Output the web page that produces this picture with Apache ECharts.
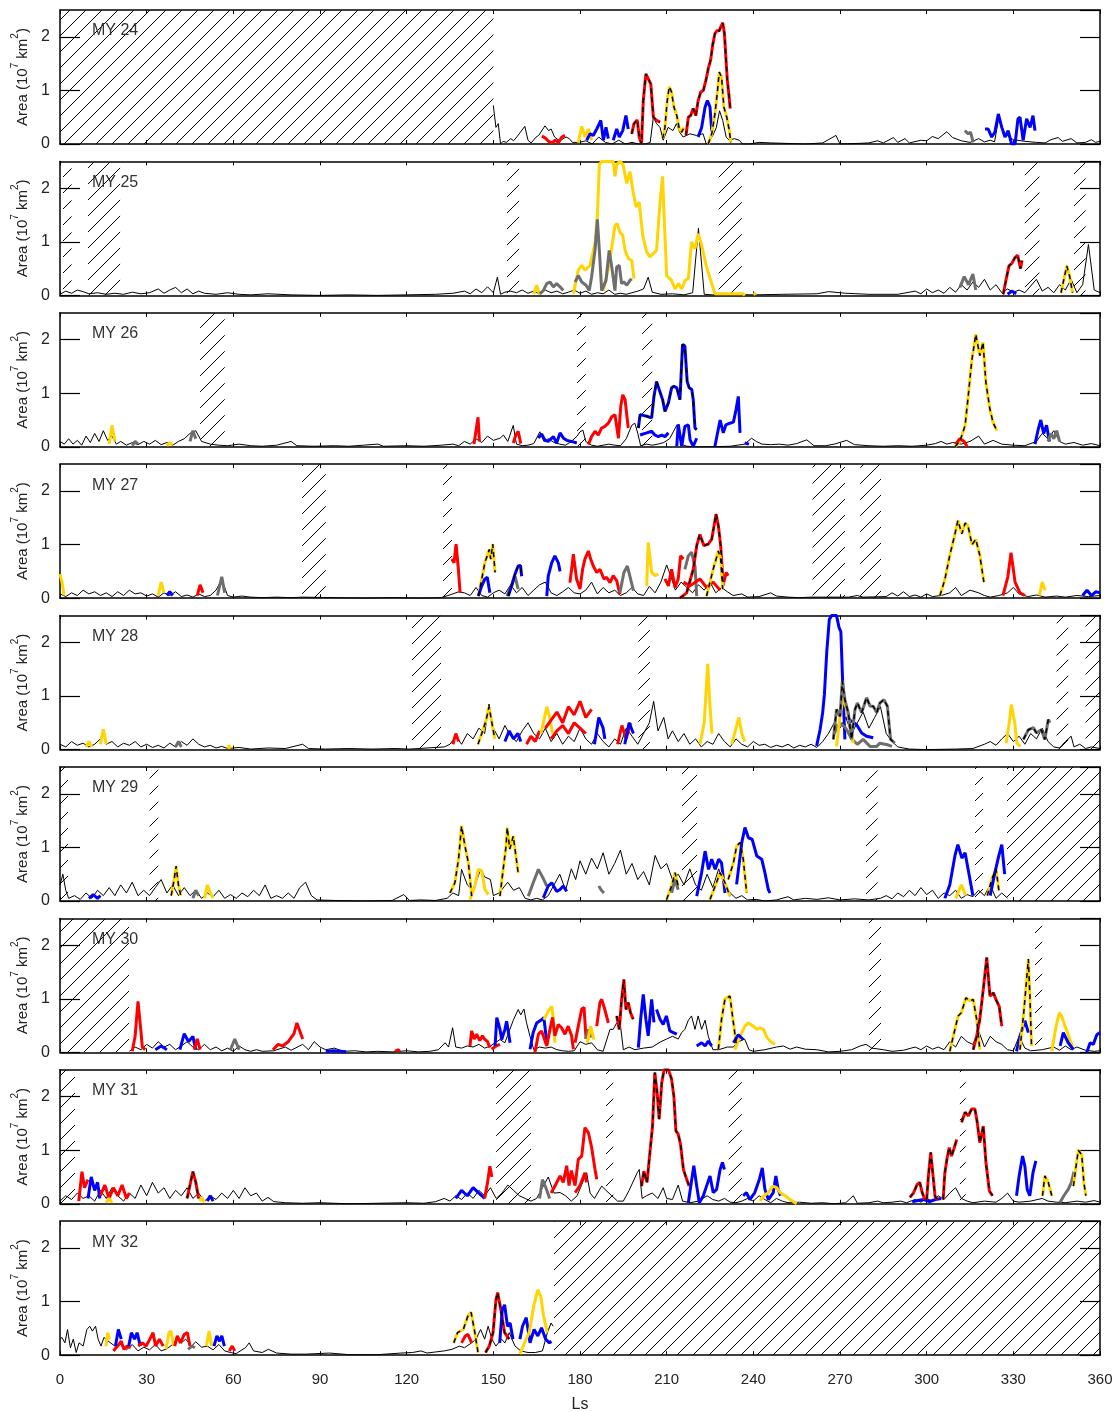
<!DOCTYPE html>
<html><head><meta charset="utf-8">
<script src="https://cdn.jsdelivr.net/npm/echarts@6/dist/echarts.min.js"></script>
<style>html,body{margin:0;padding:0;background:#fff}#c{width:1119px;height:1412px}</style>
</head><body><div id="c"></div>
<script>
// ---------------- DATA ----------------
const YEARS = ['MY 24','MY 25','MY 26','MY 27','MY 28','MY 29','MY 30','MY 31','MY 32'];
const LS_TICKS = [0,30,60,90,120,150,180,210,240,270,300,330,360];
const AREA_TICKS = [0,1,2];

// data gaps (Ls start, Ls end) per year
const HATCH = [
  [[0,150]],
  [[1,4],[9.7,20.8],[154.7,158.9],[228,236],[334,339],[351,355]],
  [[48.5,57],[179,182],[201.5,205]],
  [[83.8,92],[132.6,135.7],[260.5,271.7],[277,284.2]],
  [[121.8,131.9],[200.2,204.2],[345,349],[355,360]],
  [[0,2.8],[31,34],[215.3,220.5],[279,283],[316.7,319.5],[327.8,360]],
  [[0,23.9],[280,284.2],[337.5,340]],
  [[0,5.2],[151,163],[189,191.5],[231.5,236],[311.5,313.5]],
  [[171,360]]
];

// total area (thin black line), [Ls, area]
const BLACK24 = [[150,0.72],[150.9,0.31],[151.7,0.38],[152.5,0],[153.4,0.05],[154.5,0.03],[156,0.1],[157,0.06],[158.1,0.13],[160.9,0.33],[162,0.07],[163.1,0.02],[164.8,0.13],[165.7,0.16],[167.9,0.34],[169.1,0.25],[170,0.28],[171.2,0.13],[172.9,0.06],[175.2,0.13],[176.3,0.1],[177.4,0.03],[179.7,0.03],[182,0.06],[184.2,0],[186.5,0.13],[188.8,0.03],[191.1,0],[193.4,0.07],[195.7,0],[198,0.03],[200.3,0],[202.6,0],[204.3,0.03],[205.4,0.5],[206.5,0.38],[207.7,0.31],[208.8,0.07],[210.5,0.31],[212.2,0.25],[213.4,0.38],[214.5,0.22],[215.7,0.13],[218,0.19],[220.3,0.16],[222.6,0.19],[223.7,0],[224.9,0.07],[226,0.16],[227.2,0.31],[228.3,0.62],[229.4,0.44],[230.6,0.13],[231.7,0.07],[233.4,0.1],[235.1,0.07],[236.3,0],[238.6,0],[242,0.03],[246,0.02],[252,0.01],[258,0],[264,0.02],[268.6,0.16],[270,0],[276,0.01],[280,0.02],[283,0.06],[285,0.02],[288.5,0.12],[290,0.03],[292.5,0.1],[294,0.02],[298,0.07],[300,0.06],[302,0.14],[304,0.1],[307,0.23],[309,0.12],[312,0.06],[315,0.03],[318,0.1],[320,0.04],[322,0.07],[323.5,0.04],[325,0.5],[327,0.19],[330,0.08],[334,0.05],[338,0.03],[341,0.02],[343,0.08],[345.5,0.12],[347,0.05],[350,0.1],[352,0.02],[355,0.03],[357,0.08],[358.5,0.03],[360,0.05]];
const BLACK25 = [[0,0.02],[2,0.08],[4,0.04],[6,0.1],[8,0.07],[10,0.03],[13,0.05],[16,0.02],[19,0.04],[22,0.02],[25,0.06],[28,0.03],[31,0.05],[34,0.12],[36,0.04],[38,0.1],[40,0.15],[42,0.05],[44,0.12],[46,0.03],[48,0.08],[50,0.04],[54,0.02],[58,0.05],[62,0.02],[66,0.01],[72,0.03],[80,0.01],[90,0],[100,0.01],[110,0],[120,0.01],[130,0.02],[136,0.04],[140,0.08],[142,0.03],[144,0.12],[146,0.05],[148,0.16],[150,0.05],[151.4,0.34],[152.5,0.02],[154,0.06],[156,0.08],[158,0.05],[160,0.1],[162,0.04],[164,0.08],[166,0.03],[168,0.1],[170,0.05],[172,0.08],[174,0.03],[176,0.06],[178,0.1],[180,0.04],[182,0.08],[184,0.02],[186,0.05],[188,0.03],[190,0.1],[192,0.02],[194,0.04],[196,0.02],[198,0.05],[200,0.08],[202,0.12],[203.6,0.34],[205,0.06],[208,0.02],[212,0.03],[216,0.01],[219,0.05],[221,1.25],[223,0.02],[226,0.01],[232,0.02],[240,0.01],[250,0.02],[262,0.03],[266,0.07],[272,0.04],[280,0.02],[290,0.02],[296,0.08],[298,0.03],[300,0.12],[302,0.05],[304,0.1],[306,0.04],[308,0.15],[310,0.06],[312,0.2],[314,0.1],[316,0.25],[318,0.15],[320,0.3],[322,0.1],[324,0.2],[326,0.05],[328,0.12],[330,0.06],[332,0.1],[334,0.05],[338,0.3],[340,0.08],[342,0.15],[344,0.05],[346,0.2],[348,0.1],[350,0.3],[352,0.05],[354,0.2],[356,0.95],[358,0.1],[360,0.05]];
const BLACK26 = [[0,0.1],[1.5,0.05],[3,0.15],[4.5,0.05],[6,0.12],[7.5,0.03],[9,0.2],[10.5,0.08],[12,0.25],[13.5,0.1],[15,0.3],[16.5,0.12],[18,0.2],[19.5,0.05],[21,0.1],[23,0.03],[25,0.08],[27,0.04],[29,0.1],[31,0.05],[33,0.12],[35,0.04],[37,0.08],[39,0.03],[41,0.1],[43,0.15],[45,0.25],[47,0.3],[49,0.1],[52,0.05],[55,0.03],[58,0.02],[62,0.05],[66,0.02],[70,0.01],[75,0.03],[80,0.1],[82,0.02],[88,0.01],[95,0.02],[100,0.01],[105,0.03],[110,0.05],[112,0.01],[120,0.02],[126,0.01],[132,0.03],[136,0.05],[138,0.02],[140,0.1],[142,0.05],[144,0.15],[146,0.08],[148,0.2],[150,0.12],[152.3,0.16],[153.5,0.22],[155,0.1],[156.9,0.4],[158,0.05],[160,0.02],[162,0.03],[164,0.06],[166.1,0.28],[167.5,0.1],[169,0.15],[171,0.08],[173,0.05],[175,0.03],[177,0.1],[179,0.2],[180,0.28],[181,0.31],[182,0.1],[184,0.03],[186,0.01],[188,0.03],[190,0.05],[192,0.03],[194,0.02],[196,0.15],[197.9,0.4],[199,0.44],[200,0.25],[201,0.02],[203,0.05],[205,0.03],[207,0.05],[209,0.08],[211,0.15],[212.3,0.28],[213.5,0.4],[215,0.05],[217,0.01],[220,0],[225,0],[232,0.01],[237,0.05],[239.4,0.16],[241,0.1],[243,0.05],[246,0.04],[249,0.05],[252,0.03],[255,0.06],[258.5,0.13],[261,0.02],[265,0.02],[268,0.05],[272.3,0.12],[275,0.04],[280,0.02],[285,0.01],[290,0.02],[295,0.01],[300,0.03],[303,0.06],[305,0.1],[307,0.05],[309,0.08],[312,0.05],[315,0.1],[318,0.2],[320,0.05],[323,0.12],[326,0.05],[330,0.03],[334,0.02],[338,0.1],[340,0.25],[342,0.15],[344,0.3],[346,0.1],[348,0.05],[351,0.08],[354,0.03],[357,0.06],[360,0.02]];
const BLACK27 = [[0,0.08],[2,0.03],[4,0.1],[6,0.05],[8,0.15],[10,0.08],[12,0.12],[14,0.05],[16,0.1],[18,0.03],[20,0.12],[22,0.05],[24,0.15],[26,0.08],[28,0.1],[30,0.04],[32,0.08],[34,0.02],[36,0.1],[38,0.05],[40,0.12],[42,0.03],[44,0.06],[46,0.02],[48,0.08],[50,0.03],[52,0.05],[54,0.15],[56,0.35],[58,0.05],[60,0.02],[63,0.04],[66,0.02],[70,0.01],[75,0.02],[80,0.01],[84,0.02],[95,0.01],[105,0],[115,0.01],[125,0],[132,0.01],[136,0.08],[138,0.12],[140,0.1],[142,0.05],[144,0.2],[146,0.05],[148,0.02],[150,0.1],[152,0.15],[154,0.08],[156,0.25],[158,0.1],[160,0.2],[162,0.05],[164,0.15],[166,0.25],[168,0.3],[170,0.1],[172,0.05],[174,0.12],[176,0.2],[178,0.1],[180,0.08],[182,0.15],[184,0.3],[186,0.08],[188,0.2],[190,0.1],[192,0.15],[194,0.05],[196,0.1],[198,0.2],[200,0.08],[202,0.05],[204,0.22],[206,0.1],[208,0.3],[210,0.62],[211.5,0.4],[213,0.15],[215,0.3],[217,0.2],[219,0.1],[221,0.25],[223,0.15],[225,0.3],[227,0.1],[229,0.2],[231,0.12],[233,0.05],[236,0.08],[238,0.02],[242,0.03],[246,0.1],[248,0.04],[252,0.02],[256,0.01],[260,0.02],[273,0.02],[276,0.05],[278,0.02],[286,0.03],[288,0.1],[290,0.04],[292,0.12],[294,0.03],[296,0.06],[298,0.02],[300,0.08],[302,0.03],[305,0.05],[308,0.1],[310,0.2],[312,0.05],[315,0.15],[318,0.1],[320,0.05],[322,0.02],[325,0.05],[328,0.1],[330,0.2],[332,0.08],[335,0.03],[338,0.06],[341,0.02],[345,0.04],[348,0.02],[352,0.05],[356,0.03],[360,0.05]];
const BLACK28 = [[0,0.1],[2,0.05],[4,0.15],[6,0.08],[8,0.12],[10,0.05],[12,0.1],[14,0.2],[15,0.35],[16,0.1],[18,0.15],[20,0.05],[22,0.12],[24,0.08],[26,0.15],[28,0.05],[30,0.1],[32,0.04],[34,0.08],[36,0.03],[38,0.12],[40,0.05],[42,0.15],[44,0.08],[46,0.2],[48,0.1],[50,0.05],[52,0.08],[54,0.03],[56,0.06],[58,0.02],[62,0.04],[66,0.01],[72,0.03],[78,0.02],[84,0.1],[86,0.02],[92,0.01],[100,0.02],[108,0.01],[116,0.02],[121,0.01],[133,0.05],[135,0.1],[137,0.25],[139,0.1],[141,0.3],[143,0.2],[145,0.4],[147,0.3],[148.5,0.85],[150,0.4],[152,0.2],[154,0.45],[156,0.25],[158,0.15],[160,0.35],[162,0.5],[164,0.3],[166,0.2],[168,0.4],[170,0.15],[172,0.3],[174,0.1],[176,0.25],[178,0.15],[180,0.4],[182,0.2],[184,0.1],[186,0.3],[188,0.15],[190,0.05],[192,0.2],[194,0.1],[196,0.4],[198,0.25],[200,0.1],[202,0.3],[204,0.5],[205.5,0.9],[207,0.35],[209,0.6],[210.5,0.2],[212,0.35],[214,0.15],[216,0.3],[218,0.1],[220,0.2],[222,0.05],[224,0.15],[226,0.1],[228,0.3],[230,0.15],[232,0.05],[234,0.2],[236,0.1],[238,0.05],[240,0.15],[242,0.08],[244,0.1],[246,0.04],[248,0.08],[250,0.05],[252,0.1],[254,0.03],[256,0.08],[258,0.05],[260,0.1],[262,0.04],[264,0.15],[266,0.3],[268,0.5],[270,0.4],[272,0.6],[274,0.3],[276,0.5],[278,0.7],[280,0.4],[282,0.6],[284,0.8],[286,0.3],[288,0.15],[290,0.05],[294,0.01],[300,0],[310,0.01],[316,0.02],[320,0.1],[322,0.15],[324,0.08],[326,0.2],[328,0.3],[330,0.15],[332,0.25],[334,0.1],[336,0.3],[338,0.2],[340,0.4],[342,0.15],[344,0.05],[346,0.03],[348,0.15],[350,0.25],[351,0.05],[353,0.1],[355,0.02],[357,0.05],[360,0.02]];
const BLACK29 = [[0,0.3],[1,0.5],[2,0.2],[3,0.05],[5,0.1],[7,0.03],[9,0.15],[11,0.05],[13,0.2],[15,0.1],[17,0.25],[19,0.1],[21,0.3],[23,0.15],[25,0.35],[27,0.1],[29,0.2],[31,0.1],[33,0.25],[35,0.4],[37,0.15],[39,0.3],[41,0.1],[43,0.25],[45,0.1],[47,0.2],[49,0.05],[51,0.15],[53,0.08],[55,0.2],[57,0.05],[59,0.12],[61,0.05],[63,0.15],[65,0.08],[67,0.2],[69,0.1],[71,0.3],[73,0.05],[75,0.1],[77,0.05],[79,0.15],[81,0.05],[83,0.25],[85,0.35],[87,0.1],[89,0.02],[95,0.01],[105,0],[115,0.01],[119,0.12],[121,0.01],[125,0.02],[130,0.01],[134,0.05],[136,0.15],[138,0.1],[139,0.59],[141,0.3],[143,0.2],[145.6,0.59],[147,0.45],[149,0.4],[150,0.1],[152,0.15],[155,0.35],[157,0.2],[159,0.25],[161,0.05],[163,0.02],[165,0.05],[167,0.02],[169,0.1],[171,0.3],[173,0.5],[175,0.2],[177,0.6],[178.5,0.4],[180,0.75],[182,0.5],[184,0.8],[186,0.6],[188,0.9],[190,0.5],[192,0.7],[194,0.95],[196,0.5],[198,0.7],[200,0.4],[202,0.55],[204,0.3],[206,0.85],[208,0.6],[210,0.7],[212,0.4],[214,0.5],[216,0.3],[218,0.6],[220,0.3],[222,0.2],[224,0.5],[226,0.25],[228,0.6],[230,0.3],[232,0.15],[234,0.05],[236,0.1],[238,0.02],[241,0.03],[244,0],[248,0.02],[252,0.08],[254,0.02],[258,0.05],[262,0.03],[266,0.06],[270,0.02],[275,0.04],[280,0.02],[284,0.05],[286,0.1],[288,0.04],[290,0.15],[292,0.08],[294,0.2],[296,0.1],[298,0.25],[300,0.12],[302,0.2],[304,0.05],[306,0.15],[308,0.1],[310,0.2],[312,0.05],[314,0.12],[316,0.08],[318,0.2],[320,0.1],[322,0.3],[324,0.05],[326,0.15],[328,0.05]];
const BLACK30 = [[24,0.02],[26,0.1],[28,0.05],[30,0.15],[32,0.08],[34,0.2],[36,0.1],[38,0.15],[40,0.05],[42,0.12],[44,0.2],[46,0.1],[48,0.05],[50,0.15],[52,0.05],[54,0.1],[56,0.03],[58,0.08],[60,0.02],[62,0.12],[64,0.05],[66,0.02],[68,0.05],[70,0.02],[74,0.03],[78,0.1],[80,0.04],[84,0.15],[86,0.05],[88,0.2],[90,0.1],[92,0.05],[95,0.08],[98,0.02],[102,0.03],[106,0.01],[110,0.02],[115,0.01],[120,0.03],[124,0.01],[128,0.02],[131,0.05],[133.3,0.18],[134.5,0.1],[135.9,0.46],[137,0.1],[139,0.08],[141,0.12],[143,0.1],[145,0.15],[147,0.08],[149,0.12],[152.3,0.24],[154,0.18],[156.9,0.6],[158.6,0.8],[159.5,0.7],[160.6,0.81],[161.5,0.55],[162.7,0.3],[164,0.05],[166,0.1],[168,0.08],[170,0.1],[172,0.05],[174,0.03],[176,0.02],[178,0.03],[180,0.2],[182,0.15],[184,0.18],[186,0.05],[188,0.02],[190.4,0.43],[191.5,0.43],[192.7,0.55],[193.8,0.6],[195,0.05],[197,0.1],[199,0.05],[202,0.08],[205,0.1],[208,0.2],[210,0.25],[212,0.3],[214,0.25],[215.2,0.37],[216.3,0.43],[217.5,0.6],[218.6,0.68],[219.8,0.43],[220.9,0.68],[222.1,0.43],[223.3,0.6],[224.4,0.3],[226,0.05],[228,0.05],[231,0.1],[233,0.1],[235,0.2],[237,0.25],[238.5,0.05],[240,0.02],[244,0.05],[248,0.1],[250.4,0.12],[252.7,0.06],[255,0.1],[258,0.06],[262,0.05],[266,0.01],[270,0.02],[274,0.05],[277,0.12],[279,0.15],[281,0.08],[285,0.05],[288,0.02],[292,0.04],[296,0.1],[298,0.05],[300,0.12],[302,0.06],[304,0.1],[306,0.05],[308,0.2],[310,0.1],[312,0.3],[314,0.2],[316,0.15],[318,0.4],[320,0.1],[322,0.3],[324,0.2],[326,0.15],[328,0.05],[330,0.03],[332,0.3],[334,0.08],[336,0.03],[340,0.05],[344,0.1],[346,0.04],[348,0.12],[350,0.05],[352,0.1],[355,0.04],[358,0.02],[360,0.03]];
const BLACK31 = [[0,0.05],[2,0.15],[4,0.08],[6,0.2],[8,0.1],[10,0.15],[12,0.05],[14,0.25],[16,0.1],[18,0.3],[20,0.15],[22,0.05],[24,0.2],[26,0.1],[28,0.35],[30,0.15],[32,0.4],[34,0.2],[36,0.3],[38,0.1],[40,0.25],[42,0.15],[44,0.3],[46,0.1],[48,0.2],[50,0.05],[52,0.15],[54,0.08],[56,0.2],[58,0.1],[60,0.25],[62,0.1],[64,0.3],[66,0.15],[68,0.2],[70,0.05],[72,0.12],[74,0.04],[78,0.02],[84,0.01],[90,0.02],[100,0],[110,0.01],[120,0.02],[126,0.01],[130,0.04],[133,0.1],[135,0.05],[137,0.15],[139,0.08],[141,0.2],[143,0.1],[145,0.25],[147,0.15],[149,0.3],[151,0.1],[153,0.2],[155,0.35],[157,0.25],[159,0.15],[161,0.1],[163,0.05],[165,0.1],[167,0.3],[169,0.5],[171,0.2],[173.1,0.21],[175,0.15],[177,0.05],[179,0.15],[182.3,0.58],[183.5,0.2],[185,0.1],[187.5,0.33],[189,0.25],[191,0.15],[193,0.05],[195,0.05],[197,0.25],[199.8,0.58],[200.5,0.64],[201.5,0.1],[203,0.15],[205,0.2],[207,0.1],[208.8,0.3],[210,0.1],[212,0.08],[214,0.35],[215.5,0.05],[218,0.02],[221,0.05],[224,0.15],[226,0.08],[228,0.05],[230,0.1],[232,0.03],[234,0.02],[236,0.05],[238,0.1],[240,0.05],[242,0.15],[244,0.08],[246,0.02],[248,0.1],[250,0.05],[252,0.02],[256,0.03],[260,0.01],[264,0.02],[268,0],[272,0.02],[274.6,0.15],[276,0.01],[280,0.02],[283,0.05],[285,0.02],[288,0.03],[291,0.05],[293,0.02],[296,0.08],[298,0.03],[300,0.1],[302,0.05],[304,0.15],[306,0.08],[308,0.2],[310,0.3],[312,0.1],[314,0.05],[316,0.02],[320,0.05],[324,0.03],[326,0.1],[328,0.2],[330,0.05],[332,0.03],[336,0.05],[340,0.1],[342,0.05],[345,0.03],[348,0.02],[352,0.05],[355,0.03],[358,0.06],[360,0.03]];
const BLACK32 = [[0,0.3],[0.7,0.33],[1.7,0.23],[2.6,0.48],[3.6,0.14],[4.6,0.3],[5.6,0.05],[6.6,0.23],[8,0.17],[9.3,0.48],[10.3,0.54],[11.2,0.45],[12.3,0.54],[13.2,0.3],[14.2,0.17],[15.2,0.33],[17,0.25],[19,0.17],[21,0.2],[23,0.1],[25,0.2],[27,0.08],[29,0.15],[31,0.1],[33,0.2],[35,0.08],[37,0.12],[39,0.2],[40.4,0.3],[42,0.23],[43.5,0.3],[45.5,0.17],[47,0.25],[49,0.15],[51,0.17],[53,0.1],[55,0.2],[57,0.08],[59,0.05],[61,0.03],[63,0.1],[64.2,0.14],[65.5,0.23],[67,0.08],[70,0.05],[72.1,0.11],[75,0.04],[80,0.02],[85,0.02],[93.3,0.04],[100,0.01],[110,0.01],[118,0.04],[122,0.05],[125,0.08],[127,0.04],[130,0.06],[133,0.08],[135.7,0.11],[138.3,0.17],[140,0.14],[142.5,0.23],[144,0.3],[145.6,0.48],[147,0.3],[148.2,0.54],[149.5,0.3],[150.9,0.17],[152.8,0.3],[154,0.23],[155.5,0.42],[157.5,0.17],[159.5,0.08],[162,0.05],[164.5,0.05],[167,0.08],[168.7,0.42],[170,0.6],[170.7,0.54]];

// individual storm tracks: [class, merged(1 = dashed overlay), [[Ls, area], ...]]
const SEG24 = [
 ['red',0,[[166.8,0.15],[168,0.11],[169.1,0.05],[170.3,0.02],[171.4,0.07],[172.6,0.03],[173.7,0.13],[174.8,0.16]]],
 ['yellow',0,[[179.4,0.02],[180.6,0.33],[181.7,0.13],[182.9,0.28],[184,0.07]]],
 ['blue',0,[[182.3,0.07],[183.5,0.19],[184.6,0.16],[185.8,0.28],[187.2,0.44],[188.1,0.07],[189,0.31],[189.8,0.1]]],
 ['blue',0,[[191.5,0.07],[192.7,0.28],[193.6,0.13],[194.8,0.25],[195.9,0.53],[196.7,0.28]]],
 ['red',1,[[197.9,0.19],[198.7,0.38],[199.8,0.45],[200.5,0.13],[201.3,0],[201.9,0.81],[202.8,1.31],[203.6,1.22],[204.5,1.12],[205.4,0.5],[206.5,0.44],[207.7,0.41]]],
 ['yellow',1,[[208.6,0.1],[209.4,0.31],[210.2,0.81],[210.9,1.07],[211.7,0.97],[212.5,0.69],[213.5,0.53],[214.4,0.28],[215.2,0.22],[216,0.31]]],
 ['red',1,[[216.7,0.16],[217.5,0.5],[218.3,0.53],[219.2,0.66],[220.1,0.53],[220.9,0.81],[221.8,0.97],[222.7,1.0],[223.6,1.19],[224.4,1.41],[225.2,1.56],[225.9,1.84],[226.7,2.06],[227.5,2.12],[228.2,2.11],[228.7,2.18],[229.4,2.26],[230,2.06],[230.4,1.69],[231,1.19],[231.5,0.94],[232,0.66]]],
 ['blue',0,[[220.9,0.13],[222.1,0.31],[223.3,0.69],[224.1,0.81],[225,0.69],[225.6,0.25]]],
 ['yellow',1,[[224.4,0],[225.6,0.19],[226.7,0.56],[227.5,0.94],[228.2,1.34],[229,1.25],[229.8,0.69],[230.8,0.5],[231.7,0.25],[232.2,0.03]]],
 ['gray',0,[[313.2,0.25],[314.4,0.19],[315.2,0.22],[316.1,0.03]]],
 ['blue',0,[[320.2,0.28],[321.3,0.28],[322.5,0.13],[323.6,0.22],[324.8,0.56],[326,0.31],[327.1,0.13],[328.2,0.25],[329.4,0],[330.6,0],[331.6,0.47],[332.3,0.5],[333.4,0.07],[334.6,0.47],[335.8,0.31],[336.8,0.53],[337.5,0.25]]]
];
const SEG25 = [
 ['yellow',0,[[164,0.02],[165,0.19],[166,0.02]]],
 ['gray',0,[[166.1,0.03],[167.3,0.09],[168.5,0.22],[169.6,0.25],[170.8,0.16],[171.9,0.22],[173.1,0.16],[174.2,0.09]]],
 ['yellow',0,[[177.7,0.03],[179.4,0.47],[180.6,0.56],[181.7,0.47],[183.5,0.56],[185.2,0.97],[186,1.47],[186.7,2.44],[187.5,2.5],[191.5,2.5],[192.1,2.22],[192.7,2.44],[193.8,2.5],[194.9,2.44],[196.2,2.09],[197.3,2.31],[198.4,1.93],[199.4,1.65],[200.5,1.74],[201.7,1.12],[203.1,0.81],[204.2,0.72],[206.5,0.84],[207.7,1.74],[208.6,2.22],[209.1,1.5],[210,0.37],[211.7,0.28],[212.9,0.12],[214.1,0.22],[215.2,0.12],[216.4,0.28],[217.5,0.31],[218.6,1.0],[219.8,0.87],[220.9,1.15],[222.1,0.94],[223.8,0.53],[225.6,0.22],[226.7,0.03],[228.5,0.03],[232,0.03],[236.5,0.03],[237.1,0]]],
 ['yellow',0,[[188.1,0.09],[189.8,0.5],[191,0.9],[192.1,1.3],[192.9,1.34],[193.8,1.18],[194.8,1.12],[195.6,0.84],[196.7,0.69],[197.9,0.65],[198.7,0.31]]],
 ['yellow',0,[[240,0.02],[241,0.04]]],
 ['gray',0,[[178.3,0.25],[179.4,0.37],[180.6,0.25],[182.1,0.19],[183.2,0.09],[184,0.34],[185.2,0.84],[186,1.42],[186.7,0.84],[187.5,0.09],[189,0.28],[190.1,0.84],[191,0.53],[192.1,0.09],[192.7,0.53],[193.6,0.56],[194.4,0.22],[195.2,0.25],[196.2,0.19],[197.3,0.28],[197.9,0.31]]],
 ['gray',0,[[311.5,0.15],[313,0.35],[314.5,0.2],[316,0.4],[317,0.1]]],
 ['red',1,[[326.5,0.02],[327.5,0.3],[328.5,0.55],[329.5,0.6],[330.5,0.7],[331.5,0.75],[332.5,0.5],[333,0.65]]],
 ['blue',0,[[328,0.02],[329.5,0.08],[331,0.03]]],
 ['yellow',1,[[346.5,0.05],[347.5,0.3],[348.5,0.55],[349.5,0.35],[350.5,0.05]]]
];
const SEG26 = [
 ['yellow',0,[[17,0.05],[18,0.4],[19,0.1]]],
 ['gray',0,[[25,0.02],[26,0.1],[27,0.05]]],
 ['yellow',0,[[37,0.02],[38,0.08],[39,0.03]]],
 ['gray',0,[[45,0.1],[46,0.3],[47,0.15]]],
 ['red',0,[[143.3,0.05],[144,0.3],[144.7,0.55],[145.2,0.1]]],
 ['red',0,[[156.9,0.07],[157.8,0.22],[158.6,0.29],[159.5,0.06]]],
 ['blue',0,[[165.6,0.16],[166.7,0.24],[167.9,0.12],[169,0.1],[170.8,0.19],[171.9,0.07],[173.1,0.26],[174.3,0.16],[175.4,0.12],[177.1,0.1],[178.9,0.07]]],
 ['red',0,[[182.9,0.04],[184,0.19],[185.2,0.29],[186.3,0.22],[187.5,0.35],[188.6,0.38],[189.8,0.44],[191,0.56],[192.1,0.6],[193.3,0.16],[194.1,0.75],[194.8,0.97],[195.6,0.88],[196.7,0.35]]],
 ['blue',1,[[200.2,0.35],[200.8,0.6],[203.1,0.57],[204.8,0.54],[205.6,0.94],[206.5,1.22],[207.4,1.07],[208.6,0.88],[209.4,0.66],[210.6,0.82],[211.7,1.1],[212.5,1.13],[213.5,1.1],[214.6,0.88],[215.5,1.91],[216.3,1.88],[217.1,1.22],[217.8,1.1],[218.7,1.07],[219.2,0.88],[219.8,0.35],[220.4,0.32]]],
 ['blue',0,[[200.8,0.22],[203.1,0.26],[204.8,0.29],[205.9,0.22],[207.1,0.19],[208.3,0.22],[209.4,0.19],[210.6,0.26]]],
 ['blue',0,[[213.5,0.01],[214,0.42],[215.2,0.01],[216.3,0.38],[217.5,0.41],[218.1,0.13],[219.2,0.01],[220.4,0.16]]],
 ['blue',0,[[226.7,0.01],[228.5,0.5],[229.6,0.26],[230.5,0.41],[231.9,0.44],[233.1,0.46],[234,0.69],[234.8,0.94],[235.4,0.26]]],
 ['blue',0,[[237,0.07],[238.5,0.05]]],
 ['yellow',1,[[309.8,0],[311.5,0.1],[313.3,0.4],[314.3,0.9],[315.6,1.6],[317,2.1],[318.4,1.7],[319.5,1.95],[320.5,1.2],[321.9,0.7],[323,0.45],[324.3,0.3]]],
 ['red',0,[[310,0.05],[311.5,0.15],[313,0.1],[314,0]]],
 ['blue',0,[[337.5,0.05],[338.5,0.3],[339.5,0.5],[340.5,0.25],[341.5,0.4],[342.5,0.1]]],
 ['gray',0,[[342,0.1],[343,0.25],[344,0.15],[345,0.3],[346,0.1]]]
];
const SEG27 = [
 ['yellow',0,[[0,0.45],[0.7,0.3],[1.4,0.05]]],
 ['yellow',0,[[34,0.05],[35,0.3],[36,0.1]]],
 ['blue',0,[[37,0.05],[38,0.12],[39,0.05]]],
 ['red',0,[[47.5,0.05],[48.5,0.25],[49.5,0.1]]],
 ['gray',0,[[54.5,0.05],[56,0.4],[57,0.1]]],
 ['red',0,[[135.6,0.73],[136.4,0.66],[137.1,1.01],[137.9,0.54],[138.5,0.1]]],
 ['yellow',1,[[144.8,0.04],[146,0.36],[147.1,0.67],[147.9,0.79],[148.6,0.91],[149.1,0.73],[149.8,1.01],[150.6,0.48]]],
 ['blue',0,[[144.8,0.04],[146,0.23],[147.1,0.36],[147.9,0.39],[148.8,0.1]]],
 ['gray',0,[[154.7,0.04],[156.3,0.23],[157.5,0.41],[158.6,0.17]]],
 ['blue',1,[[155.2,0.04],[156.3,0.23],[157.5,0.45],[158.6,0.6],[159.4,0.61],[159.8,0.41]]],
 ['blue',0,[[168.5,0.04],[169,0.41],[170.2,0.66],[171.3,0.79],[172.5,0.66],[173.1,0.5]]],
 ['red',0,[[176.5,0.29],[177.1,0.54],[177.7,0.82],[178.8,0.36],[180,0.17],[180.9,0.54],[181.7,0.73],[182.9,0.88],[183.7,0.73],[184.6,0.6],[185.8,0.48],[186.9,0.54],[188.3,0.36],[189.2,0.39],[190.4,0.29],[191.5,0.42],[192.7,0.33],[193.8,0.07]]],
 ['gray',0,[[193.8,0.1],[195.2,0.48],[196.4,0.6],[197.5,0.36],[198.5,0.14]]],
 ['yellow',0,[[203.1,0.23],[203.6,1.04],[204.8,0.48],[206,0.42],[207.1,0.45]]],
 ['red',0,[[209.4,0.36],[210.6,0.23],[211.7,0.54],[212.9,0.2],[214,0.36],[214.8,0.79],[215.8,0.73]]],
 ['gray',0,[[216.3,0.54],[217.5,0.79],[218.6,0.86],[219.8,0.6],[220.4,0.04]]],
 ['red',1,[[214.6,0],[216.9,0.1],[219.2,0.54],[220.4,0.98],[221.5,1.19],[222.9,0.98],[224.4,1.01],[225.6,1.1],[227.1,1.57],[227.9,1.35],[228.7,0.98],[229.6,0.23]]],
 ['red',0,[[215.8,0.3],[218.1,0.23],[221.5,0.36],[223.8,0.2],[226.1,0.3],[228.5,0.15]]],
 ['red',0,[[229.8,0.3],[230.6,0.48],[231.3,0.42]]],
 ['yellow',1,[[223.8,0.04],[226.1,0.54],[227.9,0.88],[228.7,0.73],[229.4,0.17]]],
 ['yellow',1,[[304.6,0.05],[306.3,0.35],[308,0.8],[309.8,1.2],[310.8,1.45],[312.2,1.2],[313.3,1.4],[314.3,1.35],[315.7,1.0],[317,1.1],[318.4,0.8],[319.8,0.3]]],
 ['red',0,[[326.4,0.05],[328.1,0.4],[329.2,0.85],[330.6,0.3],[332.3,0.1],[334,0.05]]],
 ['yellow',0,[[339,0.05],[340,0.3],[341,0.15]]],
 ['blue',0,[[354,0.05],[355.5,0.15],[357,0.05],[358.5,0.12],[360,0.1]]]
];
const SEG28 = [
 ['yellow',0,[[9,0.05],[10,0.15],[11,0.05]]],
 ['yellow',0,[[14,0.1],[15,0.38],[16,0.1]]],
 ['gray',0,[[40,0.05],[41,0.15],[42,0.05]]],
 ['yellow',0,[[58,0.02],[58.5,0.08],[59,0.02]]],
 ['red',0,[[136,0.1],[137,0.3],[138,0.15]]],
 ['yellow',1,[[144.7,0.1],[146,0.3],[147.5,0.55],[148.5,0.8],[149.5,0.5],[150.5,0.2]]],
 ['blue',0,[[154,0.15],[155.5,0.35],[157,0.2],[158.5,0.3],[159.5,0.15]]],
 ['red',0,[[161.5,0.1],[163,0.25],[164.5,0.15],[166,0.35]]],
 ['yellow',0,[[166.5,0.3],[167.5,0.55],[168.5,0.8],[169.5,0.6],[170.5,0.3]]],
 ['red',0,[[168,0.4],[170,0.55],[172,0.7],[174,0.5],[176,0.8],[178,0.65],[180,0.9],[182,0.6],[184,0.75]]],
 ['red',0,[[170,0.2],[172,0.35],[174,0.45],[176,0.3],[178,0.5],[180,0.4],[182,0.3]]],
 ['blue',0,[[185,0.1],[186.5,0.6],[188,0.4],[188.6,0.2]]],
 ['red',0,[[193,0.1],[194.5,0.45],[196,0.2],[197.5,0.5]]],
 ['blue',0,[[195.5,0.1],[197,0.5],[198.5,0.3]]],
 ['yellow',0,[[221.5,0.1],[223,0.5],[224.2,1.6],[225,0.8],[225.7,0.3]]],
 ['yellow',0,[[232.5,0.1],[234,0.4],[235,0.6],[236,0.3],[237,0.15]]],
 ['blue',0,[[261.9,0.07],[263.1,0.37],[264,0.69],[264.6,1.03],[265.4,1.81],[266.3,2.43],[267.1,2.5],[268.8,2.5],[269.7,2.27],[270.3,2.2],[271.1,0.99],[271.7,0.19]]],
 ['blue',0,[[272.3,0.62],[273.5,0.55],[275.7,0.47],[277.5,0.31],[279.2,0.25],[281.5,0.22]]],
 ['gray',0,[[268,0.3],[270,0.5],[272,0.4],[274,0.2],[276,0.1],[278,0.19],[280.4,0.06],[282.7,0.06],[283.8,0.12],[286.4,0.09],[288,0.06]]],
 ['yellow',0,[[268.8,0.06],[270,0.62],[271.1,0.97],[272.3,0.75],[273.5,0.44],[274.6,0.12]]],
 ['gray',1,[[267.7,0.19],[268.8,0.75],[270,0.62],[270.8,1.28],[271.7,0.93],[272.9,0.68],[274,0.19],[275.2,0.75],[276,0.87],[277.5,0.69],[279.2,0.97],[280.4,0.81],[281.5,0.81],[282.7,0.69],[283.8,0.87],[285.2,0.93],[286.4,0.81],[287.5,0.19],[289,0.12]]],
 ['yellow',0,[[327.5,0.12],[328.6,0.5],[329.3,0.84],[330.5,0.5],[331.2,0.12],[332.4,0.06]]],
 ['gray',1,[[333.5,0.19],[335.2,0.37],[336.9,0.41],[338,0.31],[339.7,0.37],[340.9,0.19],[342.1,0.56],[342.7,0.5]]]
];
const SEG29 = [
 ['blue',0,[[10,0.05],[11.5,0.12],[13,0.05],[14,0.1]]],
 ['yellow',1,[[38.5,0.1],[39.5,0.4],[40.2,0.65],[41,0.3],[41.8,0.1]]],
 ['gray',0,[[46,0.05],[47,0.2],[48,0.1]]],
 ['yellow',0,[[50,0.05],[51,0.3],[52,0.15],[53,0.05]]],
 ['yellow',1,[[135,0.15],[136.7,0.34],[138,0.8],[139,1.4],[140.2,1.02],[141.4,0.7],[142.5,0.09]]],
 ['yellow',0,[[141.9,0.03],[143.6,0.28],[144.8,0.59],[146,0.56],[147.1,0.21],[148.3,0.12]]],
 ['yellow',1,[[152.3,0.09],[153.4,0.59],[154.4,1.02],[154.8,1.37],[155.7,0.97],[156.9,1.21],[158,0.77],[158.6,0.52]]],
 ['gray',0,[[162.1,0.09],[163.8,0.34],[165.6,0.59],[167.1,0.44],[168.5,0.28]]],
 ['blue',0,[[167.3,0.06],[169,0.28],[170.2,0.34],[171.9,0.18],[173,0.21],[174.2,0.28],[175.4,0.18]]],
 ['gray',0,[[186.5,0.28],[187.4,0.2],[188.3,0.15]]],
 ['yellow',1,[[210,0.03],[211.7,0.28],[212.9,0.53],[214,0.28]]],
 ['gray',0,[[211.7,0.15],[212.9,0.4],[214,0.21]]],
 ['blue',0,[[220.4,0.09],[222.1,0.53],[223.3,0.93],[224.5,0.59],[225.6,0.78],[226.8,0.59],[228,0.78],[229,0.71],[230.2,0.15]]],
 ['yellow',1,[[225,0.03],[226.8,0.28],[228.5,0.53],[230.2,0.34],[231.9,0.09]]],
 ['yellow',1,[[231.3,0.4],[233.1,0.71],[234.2,1.02],[235.4,1.09],[236.5,0.78],[237.7,0.15]]],
 ['blue',0,[[234.2,0.31],[236,1.09],[237.1,1.37],[238.3,1.18],[239.6,1.15],[241.2,0.84],[242.9,0.78],[244,0.53],[245.2,0.21],[245.8,0.15]]],
 ['blue',0,[[306.3,0.05],[308,0.3],[309.8,0.85],[310.8,1.05],[312.2,0.8],[313.3,0.9],[315,0.4],[316,0.1]]],
 ['yellow',0,[[310,0.05],[312,0.3],[313.5,0.1]]],
 ['yellow',1,[[321,0.1],[322.5,0.4],[324,0.6],[325,0.2]]],
 ['blue',0,[[322,0.1],[323.5,0.5],[325,0.85],[326,1.05],[327,0.5]]]
];
const SEG30 = [
 ['red',0,[[25,0.02],[26,0.3],[27,0.95],[28,0.4],[28.5,0.1],[29.5,0.05]]],
 ['blue',0,[[33,0.05],[35,0.12],[37,0.05]]],
 ['blue',0,[[41.5,0.05],[43,0.35],[44.5,0.2],[46,0.3],[47,0.05]]],
 ['red',0,[[46.5,0.05],[47.5,0.25],[48.5,0.05]]],
 ['gray',0,[[59,0.05],[60.5,0.25],[62,0.05]]],
 ['red',0,[[73.7,0.05],[75.5,0.15],[77,0.12],[79,0.2],[81,0.35],[82,0.55],[83,0.4],[84,0.25]]],
 ['blue',0,[[92,0.02],[95,0.03],[99,0.01]]],
 ['red',0,[[116,0.02],[117,0.05],[117.6,0.02]]],
 ['red',0,[[141.9,0.12],[142.5,0.4],[143.4,0.25],[144.2,0.34],[145.3,0.22],[146.2,0.31],[147.1,0.24],[147.9,0.21],[148.8,0.09]]],
 ['red',0,[[149.4,0.06],[151,0.12],[152.3,0.15]]],
 ['blue',0,[[150.6,0.12],[151.2,0.65],[152.3,0.43],[152.9,0.24],[154,0.43],[154.6,0.58],[155.8,0.18]]],
 ['blue',0,[[162.7,0.06],[163.8,0.37],[165,0.55],[166.7,0.61],[167.5,0.65],[168.5,0.18]]],
 ['yellow',0,[[167.5,0.61],[169,0.77],[170.2,0.86],[170.8,0.61],[171.3,0.18]]],
 ['red',0,[[164.4,0],[165.6,0.34],[166.7,0.4],[168.5,0.12],[169.6,0.43],[170.5,0.65],[171.3,0.31],[172.5,0.52],[173.6,0.46],[174.8,0.34],[175.9,0.49],[177.1,0.31],[177.7,0.06]]],
 ['red',0,[[178.3,0.18],[179.4,0.49],[180.6,0.81],[181.4,0.84],[182.1,0.25]]],
 ['gray',0,[[182,0.25],[182.9,0.43],[184.1,0.28]]],
 ['yellow',0,[[182.5,0.18],[183.7,0.49],[184.8,0.24]]],
 ['red',0,[[185.8,0.49],[186.9,0.93],[187.5,0.99],[188.6,0.8],[189.8,0.55]]],
 ['red',1,[[192.7,0.68],[193.6,0.43],[194.4,0.99],[195.2,1.36],[195.9,0.8],[196.7,0.93],[197.5,0.74],[198.4,0.62]]],
 ['blue',0,[[200.2,0.09],[201,0.62],[201.9,1.08],[202.8,0.62],[203.6,0.31],[204.8,0.99],[205.6,0.56]]],
 ['blue',0,[[206.5,0.8],[207.7,0.62],[208.8,0.52],[209.9,0.68],[211.1,0.4],[212.3,0.37],[213.5,0.34]]],
 ['blue',0,[[220.4,0.12],[222.1,0.18],[223.3,0.12],[224.4,0.21],[225.6,0.12]]],
 ['yellow',1,[[227.9,0.06],[229,0.62],[230.2,1.0],[231.9,1.05],[233.1,0.55],[234.2,0.12]]],
 ['yellow',0,[[233.6,0.05],[235.4,0.3],[237.1,0.49],[238.3,0.55],[240,0.49],[241.2,0.43],[242.3,0.46],[243.5,0.43],[244.7,0.28],[245.8,0.21],[247.5,0.15]]],
 ['blue',0,[[233.1,0.18],[234.8,0.33],[236.5,0.24]]],
 ['yellow',1,[[308,0.02],[309.2,0.3],[310.9,0.68],[312,0.74],[313.6,1.02],[315,0.96],[316.1,0.99],[317.3,0.62],[318.4,0.05]]],
 ['red',1,[[316.1,0.05],[317.3,0.3],[318.4,0.62],[319.6,1.18],[320.8,1.77],[321.9,1.05],[323.1,1.11],[324.2,0.96],[325.1,0.86],[326,0.49]]],
 ['blue',0,[[331.1,0.02],[332.3,0.3],[334,0.59],[335.2,0.37]]],
 ['yellow',1,[[332.3,0.05],[333.7,0.8],[335.2,1.74],[335.7,1.1],[336.3,0.12]]],
 ['yellow',0,[[343.3,0.02],[344.8,0.49],[345.9,0.74],[346.7,0.68],[347.9,0.49],[349.6,0.24],[350.8,0.05]]],
 ['blue',0,[[346.2,0.12],[347.3,0.37],[349,0.18],[350.8,0.05]]],
 ['blue',0,[[355.4,0],[356.6,0.18],[357.7,0.15],[358.9,0.33],[360,0.37]]]
];
const SEG31 = [
 ['red',0,[[6.5,0.05],[7.6,0.6],[8.5,0.3],[9.7,0.45]]],
 ['blue',0,[[9.7,0.1],[10.8,0.5],[12,0.25],[13,0.4],[13.8,0.1]]],
 ['red',0,[[14,0.15],[15.5,0.35],[17,0.1],[18.5,0.3],[20,0.15],[21.5,0.35],[23,0.1],[24,0.2]]],
 ['yellow',0,[[16,0.02],[17,0.1],[18,0.02]]],
 ['red',1,[[44,0.1],[45,0.35],[46,0.6],[47,0.4],[48,0.1]]],
 ['yellow',0,[[48.5,0.05],[49,0.12],[50,0.03]]],
 ['blue',0,[[51,0.05],[52,0.15],[53,0.05]]],
 ['blue',0,[[137,0.1],[139,0.25],[141,0.15],[143,0.3],[145,0.2],[147,0.1]]],
 ['red',0,[[147,0.1],[148,0.4],[148.8,0.7],[149.5,0.5]]],
 ['gray',0,[[166,0.1],[167,0.45],[168.2,0.3],[169.5,0.1]]],
 ['red',0,[[170,0.2],[171.5,0.35],[173.1,0.52],[174.2,0.4],[175.4,0.71],[176.2,0.34],[177,0.62],[178.3,0.34],[179.4,0.83],[180.6,0.89],[181.7,1.42],[182.9,1.33],[184,1.06],[185.2,0.64],[185.8,0.46]]],
 ['red',0,[[178.3,0.21],[180,0.34],[181.7,0.58],[182.3,0.4]]],
 ['red',1,[[201.3,0.33],[202.1,0.61],[203.2,0.4],[204.2,0.96],[205.1,1.45],[205.9,2.45],[206.7,2.08],[207.4,1.58],[208.3,2.26],[209.1,2.5],[210.6,2.5],[211.7,2.33],[212.5,2.0],[213.2,1.36],[214,1.3],[214.8,1.11],[215.8,0.64],[216.9,0.46],[217.8,0.33]]],
 ['blue',0,[[217.5,0.02],[218.7,0.46],[219.4,0.71],[220.4,0.33],[221.3,0.02],[222.7,0.15],[223.8,0.33],[225,0.52],[226.1,0.21],[227.3,0.27],[228.5,0.64],[229.3,0.77],[230,0.64]]],
 ['blue',0,[[236.5,0.15],[237.6,0.21],[238.8,0.08],[240.5,0.21],[242.1,0.46],[243.1,0.67],[244,0.27],[245.2,0.08],[246.9,0.21],[247.8,0.52],[248.6,0.27],[249.4,0.15]]],
 ['yellow',0,[[242.3,0.05],[243.7,0.15],[245.2,0.21],[246.7,0.33],[248.1,0.3],[249.3,0.21],[251,0.15],[252.7,0.08],[255,0]]],
 ['blue',0,[[295,0.04],[297,0.06],[299,0.08],[301,0.04],[303,0.08],[305,0.1]]],
 ['red',1,[[294.2,0.12],[295.4,0.2],[296.7,0.36],[297.6,0.4],[298.5,0.2],[299.4,0.08]]],
 ['red',1,[[300,0.08],[300.6,0.52],[301.4,0.96],[302.1,0.58],[302.9,0.14],[303.7,0.08]]],
 ['red',1,[[305.7,0.08],[306.3,0.58],[307.1,0.86],[307.8,1.05],[308.6,0.89],[309.4,1.02],[310.4,1.2]]],
 ['red',1,[[312.1,1.52],[313.3,1.71],[314.4,1.64],[315.6,1.77],[316.7,1.77],[317.5,1.52],[318.4,1.14],[319.6,1.45],[320.5,0.78],[321.7,0.24],[322.8,0.15]]],
 ['blue',0,[[331.1,0.15],[332,0.52],[333.2,0.89],[334,0.7],[334.8,0.27],[335.7,0.15],[336.8,0.58],[337.8,0.8]]],
 ['yellow',1,[[340.1,0.15],[340.9,0.52],[342.1,0.4],[343.3,0.15]]],
 ['gray',0,[[346.1,0.02],[347.5,0.15],[349,0.27],[350.1,0.4],[351,0.6]]],
 ['yellow',1,[[350.8,0.33],[351.7,0.7],[352.5,1.0],[353.7,0.91],[354.4,0.4],[355.1,0.15]]]
];
const SEG32 = [
 ['yellow',0,[[15.9,0.17],[16.5,0.42],[17.2,0.3]]],
 ['red',0,[[18.5,0.08],[19.9,0.17],[21.2,0.26],[22.1,0.11],[23.2,0.17],[24.5,0.14]]],
 ['blue',0,[[19.2,0.17],[20.2,0.48],[21.2,0.3]]],
 ['blue',0,[[23.8,0.17],[24.7,0.42],[25.8,0.3],[26.7,0.42],[27.8,0.17]]],
 ['red',0,[[27.1,0.17],[28.5,0.23],[29.8,0.17],[31.1,0.3],[32.2,0.42],[33.1,0.17],[34.4,0.3],[35.7,0.17]]],
 ['yellow',0,[[36.7,0.11],[37.7,0.42],[38.4,0.45],[39.3,0.17]]],
 ['red',0,[[39.7,0.17],[40.6,0.36],[41.7,0.23],[43,0.39],[44.1,0.42],[45,0.17]]],
 ['gray',0,[[44.3,0.11],[45.7,0.17],[46.7,0.14]]],
 ['yellow',0,[[50.7,0.17],[51.6,0.45],[52.5,0.17]]],
 ['blue',0,[[53.3,0.17],[54.3,0.36],[55.2,0.26],[56,0.36],[56.9,0.17]]],
 ['red',0,[[58.6,0.08],[59.6,0.17],[60.5,0.08]]],
 ['yellow',1,[[136.3,0.23],[137.6,0.42],[139.6,0.48],[141.2,0.73],[142.3,0.8],[143.6,0.42],[144.7,0.05]]],
 ['red',0,[[139,0.23],[140.3,0.36],[141.2,0.39],[142.5,0.23]]],
 ['red',1,[[147.3,0.05],[148.6,0.17],[149.9,0.42],[150.9,1.03],[151.5,1.17],[152.6,0.85],[153.9,0.42],[155.5,0.3]]],
 ['blue',0,[[152.2,0.23],[153.1,0.85],[153.9,0.94],[154.9,0.54],[155.8,0.6],[156.8,0.3]]],
 ['blue',0,[[159.2,0.3],[160.1,0.54],[161.4,0.7],[162.7,0.23],[164.1,0.48],[165.4,0.36],[166.7,0.51],[168.1,0.3],[169.4,0.23],[170.1,0.26]]],
 ['yellow',0,[[159.2,0.02],[160.8,0.23],[162.4,0.42],[164.1,0.95],[165.4,1.22],[166.4,1.1],[167.4,0.73],[168.7,0.42]]]
];
const BLACK = [BLACK24,BLACK25,BLACK26,BLACK27,BLACK28,BLACK29,BLACK30,BLACK31,BLACK32];
const SEGS = [SEG24,SEG25,SEG26,SEG27,SEG28,SEG29,SEG30,SEG31,SEG32];

// ---------------- STYLE / LAYOUT ----------------
const FONT = '"Liberation Sans", Arial, Helvetica, sans-serif';
const CLASS_COLOR = {red:'#ff0000', blue:'#0000ff', yellow:'#ffd400', gray:'#6e6e6e'};
const TOP0 = 10, STEP = 151.4, H = 134;

function makeHatch(){
  const s = 16, c = document.createElement('canvas');
  c.width = s; c.height = s;
  const g = c.getContext('2d');
  g.strokeStyle = '#000'; g.lineWidth = 1;
  g.beginPath();
  g.moveTo(0, s); g.lineTo(s, 0);
  g.moveTo(-2, 2); g.lineTo(2, -2);
  g.moveTo(s - 2, s + 2); g.lineTo(s + 2, s - 2);
  g.stroke();
  return c;
}
const hatchPattern = {image: makeHatch(), repeat: 'repeat'};

const grids = [], xAxes = [], yAxes = [], series = [], titles = [];
const axisLineStyle = {color:'#000', width:1.5};
YEARS.forEach((yr, i) => {
  const top = TOP0 + i * STEP;
  grids.push({left:60, right:19, top:top, height:H, containLabel:false, outerBoundsMode:'none'});
  const last = i === YEARS.length - 1;
  xAxes.push({type:'value', gridIndex:i, min:LS_TICKS[0], max:LS_TICKS[LS_TICKS.length-1], interval:30, position:'bottom',
    axisLine:{show:true, onZero:false, lineStyle:axisLineStyle},
    axisTick:{show:true, inside:true, length:4, lineStyle:{color:'#000', width:1}},
    axisLabel:{show:last, margin:17, fontSize:15, color:'#222', fontFamily:FONT},
    splitLine:{show:false},
    name: last ? 'Ls' : '', nameLocation:'middle', nameGap:41, nameTextStyle:{fontSize:16, color:'#222', fontFamily:FONT}});
  xAxes.push({type:'value', gridIndex:i, min:0, max:360, interval:30, position:'top',
    axisLine:{show:true, onZero:false, lineStyle:axisLineStyle},
    axisTick:{show:true, inside:true, length:4, lineStyle:{color:'#000', width:1}},
    axisLabel:{show:false}, splitLine:{show:false}});
  yAxes.push({type:'value', gridIndex:i, min:0, max:2.5, interval:1, position:'left',
    axisLine:{show:true, onZero:false, lineStyle:axisLineStyle},
    axisTick:{show:true, inside:true, length:20, lineStyle:{color:'#000', width:1.2}},
    axisLabel:{show:true, margin:10, fontSize:16, color:'#222', fontFamily:FONT, showMaxLabel:false,
      formatter: v => AREA_TICKS.indexOf(v) >= 0 ? String(v) : ''},
    splitLine:{show:false},
    name:'{a|Area (10}{s|7}{a| km}{s|2}{a|)}', nameLocation:'middle', nameGap:24, nameRotate:90,
    nameTextStyle:{rich:{a:{fontSize:15, color:'#222', fontFamily:FONT, lineHeight:20, verticalAlign:'bottom'},
                          s:{fontSize:10, color:'#222', fontFamily:FONT, lineHeight:20, verticalAlign:'top'}}}});
  yAxes.push({type:'value', gridIndex:i, min:0, max:2.5, interval:1, position:'right',
    axisLine:{show:true, onZero:false, lineStyle:axisLineStyle},
    axisTick:{show:true, inside:true, length:20, lineStyle:{color:'#000', width:1.2}},
    axisLabel:{show:false}, splitLine:{show:false}});
  titles.push({text:yr, left:92, top:top + 13, padding:0,
    textStyle:{fontSize:16, fontWeight:'normal', color:'#333', fontFamily:FONT}});

  const xi = 2 * i, yi = 2 * i;
  series.push({type:'custom', xAxisIndex:xi, yAxisIndex:yi, z:1, silent:true, clip:true,
    data: HATCH[i],
    renderItem: (params, api) => {
      const a = api.coord([api.value(0), 2.5]);
      const b = api.coord([api.value(1), 0]);
      return {type:'rect', shape:{x:a[0], y:a[1], width:b[0]-a[0], height:b[1]-a[1]},
        style:{fill:hatchPattern, stroke:null}};
    }});
  series.push({type:'line', xAxisIndex:xi, yAxisIndex:yi, z:3, silent:true, symbol:'none',
    data: BLACK[i], lineStyle:{color:'#000', width:1}});
  SEGS[i].forEach(seg => {
    series.push({type:'line', xAxisIndex:xi, yAxisIndex:yi, z:4, silent:true, symbol:'none',
      data: seg[2], lineStyle:{color:CLASS_COLOR[seg[0]], width:3}});
    if (seg[1]) series.push({type:'line', xAxisIndex:xi, yAxisIndex:yi, z:5, silent:true, symbol:'none',
      data: seg[2], lineStyle:{color:'#000', width:1.5, type:[5,4]}});
  });
});

const chart = echarts.init(document.getElementById('c'), null, {renderer:'canvas'});
chart.setOption({animation:false, backgroundColor:'#fff', title:titles, grid:grids, xAxis:xAxes, yAxis:yAxes, series:series});
</script></body></html>
